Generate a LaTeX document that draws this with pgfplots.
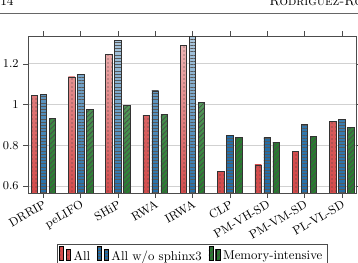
\documentclass[border=0pt]{standalone}
\usepackage{pgfplots}
\pgfplotsset{compat=1.18}
\usetikzlibrary{patterns.meta}

\definecolor{barred}{RGB}{212,76,76}
\definecolor{barblue}{RGB}{36,110,168}
\definecolor{bargreen}{RGB}{38,126,46}

\tikzset{
  redpat/.style={pattern={Dots[distance=3pt, radius=0.55pt]}, pattern color=black!75},
  bluepat/.style={pattern={Lines[angle=0, distance=2.4pt, line width=0.55pt]}, pattern color=black!65},
  greenpat/.style={pattern={Lines[angle=45, distance=2.6pt, line width=0.6pt]}, pattern color=black!70},
}

\pgfplotsset{
  basebar/.style={ybar, bar width=4.9pt, line width=0.55pt},
  redshift/.style={bar shift=-6.75pt},
  blueshift/.style={bar shift=0pt},
  greenshift/.style={bar shift=6.75pt},
  % two small bars as legend glyph, filled and patterned
  barglyph/.style={legend image code/.code={
      \draw[fill=bar#1, draw=black!80, line width=0.5pt] (0pt,-0.3em) rectangle (3.2pt,0.75em);
      \fill[#1pat] (0pt,-0.3em) rectangle (3.2pt,0.75em);
      \draw[fill=bar#1, draw=black!80, line width=0.5pt] (5.2pt,-0.3em) rectangle (8.4pt,0.55em);
      \fill[#1pat] (5.2pt,-0.3em) rectangle (8.4pt,0.55em);
  }},
}

% one bar: #1 = position, #2 = value, #3 = series (red/blue/green)
% taller bars fade towards white at the top; the pattern is laid over the shaded bar
\newcommand\onebar[3]{%
  \pgfmathtruncatemacro\pct{100-max(0,min(65,130*(#2-0.85)))}%
  \edef\next{\noexpand\addplot[basebar, #3shift, forget plot, draw=none,
      top color=bar#3!\pct!white, middle color=bar#3, bottom color=bar#3]
      coordinates {(#1,#2)};
    \noexpand\addplot[basebar, #3shift, forget plot, draw=black!80, #3pat]
      coordinates {(#1,#2)};}%
  \next}

\begin{document}
\begin{tikzpicture}
  \path[use as bounding box] (-21pt,-52.5pt) rectangle (247.5pt,144.75pt);
  % running head
  \draw[black!60, line width=0.6pt] (-21pt,135pt) -- (247.5pt,135pt);
  \node[anchor=base west, inner sep=0pt] at (-21pt,140.25pt) {14};
  \node[anchor=base west, inner sep=0pt] at (180.75pt,140.25pt) {\textsc{Rodríguez-Rodríguez et al.}};

  \begin{axis}[
    at={(0pt,0pt)}, anchor=south west,
    scale only axis, width=246pt, height=117.75pt,
    xmin=-0.41, xmax=8.38,
    ymin=0.566, ymax=1.337,
    xtick={0,...,8},
    xticklabels={DRRIP,peLIFO,SHiP,RWA,IRWA,CLP,PM-VH-SD,PM-VM-SD,PL-VL-SD},
    x tick label style={rotate=30, anchor=north east, font=\small, inner sep=1pt},
    ytick={0.6,0.8,1,1.2},
    y tick label style={font=\small},
    tick align=outside,
    major tick length=3.5pt,
    tick style={black!70},
    ymajorgrids,
    grid style={black!18, line width=0.6pt},
    axis line style={black!70, line width=0.6pt},
    legend columns=-1,
    legend style={at={(0.5,-0.325)}, anchor=north,
      font=\fontsize{9.6}{11}\selectfont, draw=black!70, inner sep=1.5pt,
      /tikz/every even column/.append style={column sep=3pt}},
  ]
    % All
    \onebar{0}{1.047}{red}
    \onebar{1}{1.136}{red}
    \onebar{2}{1.245}{red}
    \onebar{3}{0.946}{red}
    \onebar{4}{1.290}{red}
    \onebar{5}{0.671}{red}
    \onebar{6}{0.704}{red}
    \onebar{7}{0.769}{red}
    \onebar{8}{0.919}{red}
    % All w/o sphinx3
    \onebar{0}{1.052}{blue}
    \onebar{1}{1.150}{blue}
    \onebar{2}{1.314}{blue}
    \onebar{3}{1.067}{blue}
    \onebar{4}{1.334}{blue}
    \onebar{5}{0.847}{blue}
    \onebar{6}{0.840}{blue}
    \onebar{7}{0.903}{blue}
    \onebar{8}{0.929}{blue}
    % Memory-intensive
    \onebar{0}{0.931}{green}
    \onebar{1}{0.975}{green}
    \onebar{2}{0.998}{green}
    \onebar{3}{0.951}{green}
    \onebar{4}{1.010}{green}
    \onebar{5}{0.840}{green}
    \onebar{6}{0.814}{green}
    \onebar{7}{0.843}{green}
    \onebar{8}{0.889}{green}

    \addlegendimage{barglyph=red}
    \addlegendentry{All}
    \addlegendimage{barglyph=blue}
    \addlegendentry{All w/o sphinx3}
    \addlegendimage{barglyph=green}
    \addlegendentry{Memory-intensive}
  \end{axis}
\end{tikzpicture}
\end{document}
